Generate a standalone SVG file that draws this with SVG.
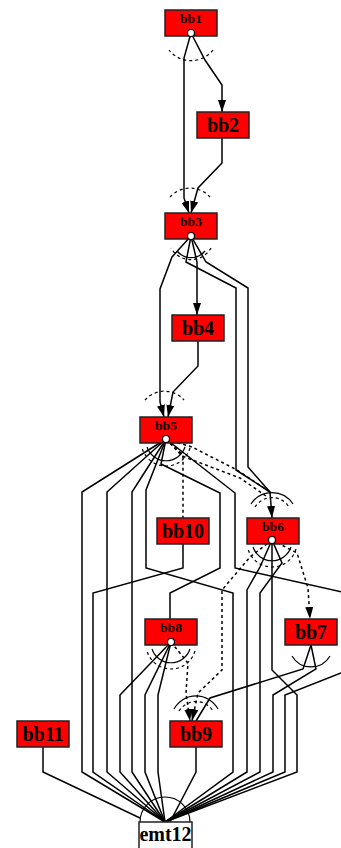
<svg xmlns="http://www.w3.org/2000/svg" width="341" height="848" viewBox="0 0 341 848">
<style>
.node rect{fill:#ff0000;stroke:#222;stroke-width:1.5}
.node.white rect{fill:#ffffff}
.lbl{font-family:"Liberation Serif",serif;font-weight:bold;font-size:20px;text-anchor:middle;fill:#000}
.sm{font-size:13.5px}
.port{fill:#fff;stroke:#000;stroke-width:1.2}
.e{fill:none;stroke:#000;stroke-width:1.5;stroke-linejoin:miter}
.d{stroke-dasharray:3,3}
.a{marker-end:url(#arr)}
.arc{fill:none;stroke:#000;stroke-width:1.2}
</style>
<defs>
<marker id="arr" viewBox="0 0 12 8" refX="12" refY="4" markerWidth="12" markerHeight="8" markerUnits="userSpaceOnUse" orient="auto">
<path d="M0,0 L12,4 L0,8 Z" fill="#000"/>
</marker>
</defs>
<g id="edges">
<polyline class="e a" points="191,33 184,58 184,198 189,213"/>
<polyline class="e a" points="191,33 205,60 222,85 222,112"/>
<polyline class="e a" points="222,138 222,163 198,188 191,213"/>
<polyline class="e a" points="191,236 197,262 197,315"/>
<polyline class="e a" points="191,236 172,257 160,289 160,402 164,417"/>
<polyline class="e a" points="198,341 198,366 173,392 168,417"/>
<polyline class="e a" points="191,236 186,262 236,288 236,470 270,492 272,518"/>
<polyline class="e" points="191,236 206,262 248,288 248,467 270,492"/>
<polyline class="e d" points="166,439 192,447 237,470 270,492"/>
<polyline class="e d" points="166,439 182,456 240,478 266,496"/>
<polyline class="e d" points="166,439 183,455 183,518"/>
<polyline class="e" points="166,439 82,492 82,772 165,822"/>
<polyline class="e" points="166,439 107,492 107,772 165,822"/>
<polyline class="e" points="166,439 132,492 132,772 165,822"/>
<polyline class="e" points="166,439 146,490 146,568 233,593 233,772 165,822"/>
<polyline class="e" points="166,439 161,464 220,493 220,568 170,593 170,619"/>
<polyline class="e" points="166,439 235,493 235,568 360,596 360,668 341,673 285,695 285,772 165,822"/>
<polyline class="e" points="183,544 183,568 93,593 93,772 165,822"/>
<polyline class="e d a" points="272,540 297,553 308,588 310,619"/>
<polyline class="e d a" points="272,540 250,557 222,590 222,670 198,693 192,721"/>
<polyline class="e" points="272,540 260,567 247,590 247,772 165,822"/>
<polyline class="e" points="272,540 282,563 260,593 260,772 165,822"/>
<polyline class="e" points="272,540 272,670 297,695 297,772 165,822"/>
<polyline class="e" points="311,645 303,669 210,698 196,721"/>
<polyline class="e" points="311,645 316,669 273,695 273,772 165,822"/>
<polyline class="e" points="171,642 120,695 120,772 165,822"/>
<polyline class="e" points="171,642 145,695 145,772 165,822"/>
<polyline class="e" points="171,642 158,695 158,772 165,822"/>
<polyline class="e d a" points="171,642 188,663 186,693 190,721"/>
<polyline class="e" points="196,747 196,772 170,822"/>
<polyline class="e" points="43,747 43,772 140,818"/>
<path class="arc d" d="M213,50 A28,28 0 0,1 169,50"/>
<path class="arc d" d="M170,197 A27,27 0 0,1 210,197"/>
<path class="arc d" d="M211,248 A23,23 0 0,1 171,248"/>
<path class="arc" d="M205,251 A18,18 0 0,1 177,251"/>
<path class="arc d" d="M145,400 A26,26 0 0,1 184,400"/>
<path class="arc" d="M185,447 A20,20 0 0,1 147,447"/>
<path class="arc d" d="M190,448 A25,25 0 0,1 142,448"/>
<path class="arc" d="M251,504 A25,25 0 0,1 293,504"/>
<path class="arc d" d="M255,507 A20,20 0 0,1 289,507"/>
<path class="arc" d="M291,547 A20,20 0 0,1 253,547"/>
<path class="arc d" d="M296,549 A25,25 0 0,1 248,549"/>
<path class="arc" d="M190,649 A20,20 0 0,1 152,649"/>
<path class="arc d" d="M195,651 A25,25 0 0,1 147,651"/>
<path class="arc" d="M330,656 A22,22 0 0,1 292,656"/>
<path class="arc" d="M174,709 A25,25 0 0,1 218,709"/>
<path class="arc d" d="M179,711 A20,20 0 0,1 213,711"/>
<path class="arc" d="M140,822 A25,25 0 0,1 190,822"/>
</g>
<g id="bb1" class="node"><rect x="165" y="10" width="52" height="26"/><text class="lbl sm" x="191" y="23">bb1</text><circle class="port" cx="191" cy="33" r="3.5"/></g>
<g id="bb2" class="node"><rect x="197" y="112" width="52" height="26"/><text class="lbl" x="223" y="132">bb2</text></g>
<g id="bb3" class="node"><rect x="165" y="213" width="52" height="26"/><text class="lbl sm" x="191" y="226">bb3</text><circle class="port" cx="191" cy="236" r="3.5"/></g>
<g id="bb4" class="node"><rect x="172" y="315" width="52" height="26"/><text class="lbl" x="198" y="335">bb4</text></g>
<g id="bb5" class="node"><rect x="140" y="417" width="52" height="26"/><text class="lbl sm" x="166" y="430">bb5</text><circle class="port" cx="166" cy="439" r="3.5"/></g>
<g id="bb10" class="node"><rect x="157" y="518" width="52" height="26"/><text class="lbl" x="183" y="538">bb10</text></g>
<g id="bb6" class="node"><rect x="247" y="518" width="52" height="26"/><text class="lbl sm" x="273" y="531">bb6</text><circle class="port" cx="272" cy="540" r="3.5"/></g>
<g id="bb7" class="node"><rect x="285" y="619" width="52" height="26"/><text class="lbl" x="311" y="639">bb7</text></g>
<g id="bb8" class="node"><rect x="145" y="619" width="52" height="26"/><text class="lbl sm" x="171" y="632">bb8</text><circle class="port" cx="171" cy="642" r="3.5"/></g>
<g id="bb9" class="node"><rect x="170" y="721" width="52" height="26"/><text class="lbl" x="196" y="741">bb9</text></g>
<g id="bb11" class="node"><rect x="17" y="721" width="52" height="26"/><text class="lbl" x="43" y="741">bb11</text></g>
<g id="emt12" class="node white"><rect x="139" y="822" width="53" height="30"/><text class="lbl" x="165.5" y="841">emt12</text></g>
</svg>
